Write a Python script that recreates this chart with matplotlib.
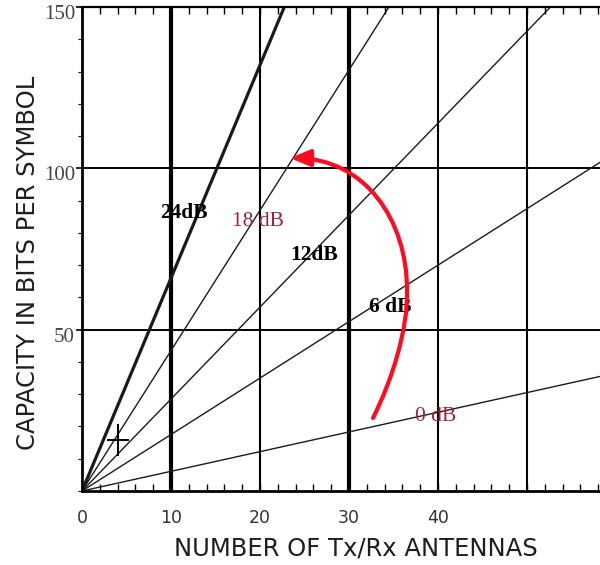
import matplotlib
matplotlib.use('Agg')
import matplotlib.pyplot as plt
import numpy as np
from matplotlib.path import Path
from matplotlib.patches import FancyArrowPatch
from matplotlib.transforms import ScaledTranslation

# ---- data ----
snr_labels = ['0 dB', '6 dB', '12dB', '18 dB', '24dB']
n_antennas = [0, 60]
# capacity (bits/symbol) of each straight SNR line at N = 0 and N = 60
capacity_0dB = [0, 36.6]
capacity_6dB = [0, 105.0]
capacity_12dB = [0, 171.0]
capacity_18dB = [0, 261.0]
capacity_24dB = [0, 396.0]
label_x = [39.7, 34.6, 26.1, 19.8, 11.5]
label_y = [23.2, 57.0, 73.1, 83.4, 86.1]
x_tick_values = [0, 10, 20, 30, 40]
x_tick_labels = ['0', '10', '20', '30', '40']
y_tick_values = [50, 100, 150]
y_tick_labels = ['50', '100', '150']
grid_x = [10, 20, 30, 40, 50]
grid_y = [50, 100]
marker_x = [4.04]
marker_y = [15.8]
# red curved arrow (bezier control points, data coords)
arrow_x = [32.70, 34.83, 36.63, 36.52, 36.52, 31.80, 23.37]
arrow_y = [22.62, 34.40, 49.89, 62.29, 83.98, 103.19, 103.19]

# ---- styles ----
series = [capacity_0dB, capacity_6dB, capacity_12dB, capacity_18dB, capacity_24dB]
line_lw = [1.0, 1.0, 1.0, 1.0, 2.3]
label_colors = ['#a3203b', 'black', 'black', '#a3203b', 'black']
label_weights = ['normal', 'bold', 'bold', 'normal', 'bold']
grid_x_lw = [3.0, 1.5, 3.0, 1.5, 1.5]

fig = plt.figure(figsize=(6, 5.65), dpi=100)
W, H = 600, 565
left_px, right_px, top_px, bottom_px = 82, 600, 7, 491
ax = fig.add_axes([left_px / W, 1 - bottom_px / H, (right_px - left_px) / W, (bottom_px - top_px) / H])
ax.set_xlim(0, 58.2)
ax.set_ylim(0, 150)

for gx, lw in zip(grid_x, grid_x_lw):
    ax.axvline(gx, color='black', lw=lw, zorder=1)
for gy in grid_y:
    ax.axhline(gy, color='black', lw=1.4, zorder=1)

for ys, lw in zip(series, line_lw):
    ax.plot(n_antennas, ys, color='#1a1a1a', lw=lw, zorder=2)

for lx, ly, t, c, w in zip(label_x, label_y, snr_labels, label_colors, label_weights):
    ax.text(lx, ly, t, color=c, fontsize=15.5, fontweight=w, family='Liberation Serif',
            ha='center', va='center', zorder=3)

plus_marker = Path([(-0.33, 0), (0.33, 0), (0, -0.5), (0, 0.5)],
                   [Path.MOVETO, Path.LINETO, Path.MOVETO, Path.LINETO])
ax.plot(marker_x, marker_y, marker=plus_marker, color='black', markersize=23, mew=1.4,
        ls='none', zorder=3)

verts = list(zip(arrow_x, arrow_y))
codes = [Path.MOVETO] + [Path.CURVE4] * 6
arrow = FancyArrowPatch(path=Path(verts, codes), arrowstyle='-|>,head_length=0.6,head_width=0.25',
                        mutation_scale=20, color='#ff0a1e', lw=3.0, zorder=4)
ax.add_patch(arrow)

# spines
ax.spines['right'].set_visible(False)
ax.spines['left'].set_linewidth(2.0)
ax.spines['bottom'].set_linewidth(2.0)
ax.spines['top'].set_linewidth(1.6)

# ticks
ax.set_xticks(x_tick_values)
ax.set_xticklabels(x_tick_labels)
ax.set_xticks(np.arange(0, 59, 2), minor=True)
ax.tick_params(axis='x', which='major', direction='in', length=5, width=1, top=True,
               pad=13, labelsize=12.5, labelcolor='#333333')
ax.tick_params(axis='x', which='minor', direction='in', length=5, width=1, top=True, bottom=True)
ax.set_yticks(y_tick_values)
ax.set_yticklabels(y_tick_labels)
ax.set_yticks(np.arange(0, 150, 10), minor=True)
ax.tick_params(axis='y', which='major', direction='out', length=4, width=1.2, pad=1,
               labelsize=15, labelcolor='#444444')
ax.tick_params(axis='y', which='minor', direction='out', length=3, width=0.8)
for lab in ax.get_yticklabels():
    lab.set_family('Liberation Serif')
    lab.set_transform(lab.get_transform() + ScaledTranslation(0, -5 / 100, fig.dpi_scale_trans))

fig.text(356 / W, 1 - 549 / H, 'NUMBER OF Tx/Rx ANTENNAS', ha='center', va='center',
         fontsize=17.5, color='#1e1e1e')
fig.text(28 / W, 1 - 263 / H, 'CAPACITY IN BITS PER SYMBOL', ha='center', va='center',
         rotation=90, fontsize=17.5, color='#1e1e1e')

fig.savefig('out.png', dpi=100)
